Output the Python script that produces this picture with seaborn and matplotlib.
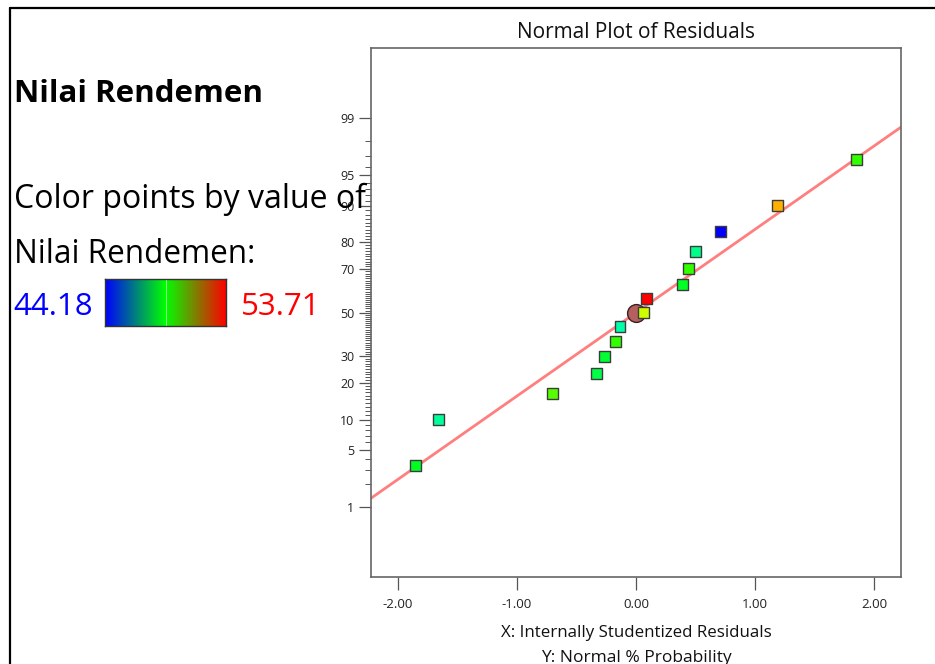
import numpy as np
import matplotlib
matplotlib.use("Agg")
import matplotlib.pyplot as plt
from matplotlib.colors import LinearSegmentedColormap
from matplotlib.lines import Line2D
from matplotlib.ticker import FixedLocator, FixedFormatter, NullFormatter
from statistics import NormalDist
import pandas as pd
import seaborn as sns

# ---- data -----------------------------------------------------------------
residuals = [-1.848, -1.659, -0.702, -0.333, -0.263, -0.174, -0.134, 0.061,
             0.092, 0.392, 0.439, 0.497, 0.705, 1.185, 1.851]
normal_prob = [3.33, 10.00, 16.67, 23.33, 30.00, 36.67, 43.33, 50.00,
               56.67, 63.33, 70.00, 76.67, 83.33, 90.00, 96.67]
rendemen = [48.63, 47.52, 49.74, 48.31, 48.47, 49.42, 47.36, 50.85,
            53.71, 48.63, 49.42, 47.67, 44.18, 52.04, 49.42]

ref_line_x = [-2.223, 2.223]
ref_line_prob = [1.311, 98.689]

center_x = [0.0]
center_prob = [50.0]

rend_min, rend_max = 44.18, 53.71

prob_major = [1, 5, 10, 20, 30, 50, 70, 80, 90, 95, 99]
x_major = [-2.0, -1.0, 0.0, 1.0, 2.0]
x_major_labels = ["-2.00", "-1.00", "0.00", "1.00", "2.00"]

# ---- style ----------------------------------------------------------------
sns.set_style("white")
plt.rcParams["font.family"] = ["Open Sans", "DejaVu Sans"]

W, H = 935, 664
fig = plt.figure(figsize=(W / 100, H / 100), dpi=100)
fig.patch.set_facecolor("white")


def fx(px):
    return px / W


def fy(py):
    return 1 - py / H


# points coloured along the hue spectrum, legend bar uses an RGB blend
point_cmap = LinearSegmentedColormap.from_list(
    "spectrum", ["#0000ff", "#00ffff", "#00ff00", "#ffff00", "#ff0000"])
bar_cmap = LinearSegmentedColormap.from_list(
    "bgr", ["#0000ff", "#00ff00", "#ff0000"])

# probability (normal quantile) scale for the y axis
_nd = NormalDist()
_inv = np.vectorize(_nd.inv_cdf, otypes=[float])
_cdf = np.vectorize(_nd.cdf, otypes=[float])


def to_z(p):
    p = np.clip(np.asarray(p, dtype=float) / 100.0, 1e-12, 1 - 1e-12)
    return _inv(p)


def to_p(z):
    return 100.0 * _cdf(np.asarray(z, dtype=float))


ax = fig.add_axes([fx(371), fy(577.3), fx(901) - fx(371), fy(48) - fy(577.3)])
ax.set_yscale("function", functions=(to_z, to_p))

df = pd.DataFrame({"res": residuals, "prob": normal_prob, "val": rendemen})
line_df = pd.DataFrame({"res": ref_line_x, "prob": ref_line_prob})

sns.lineplot(data=line_df, x="res", y="prob", ax=ax, color="#ff7f7f",
             linewidth=2.0, zorder=2)
ax.scatter(center_x, center_prob, s=165, color="#b5605f",
           edgecolor="#3a2020", linewidth=1.0, zorder=3)
sns.scatterplot(data=df, x="res", y="prob", hue="val", palette=point_cmap,
                hue_norm=(rend_min, rend_max), marker="s", s=62,
                edgecolor="#3c3c3c", linewidth=1.0, legend=False, ax=ax,
                zorder=4)

ax.set_xlim(-2.223, 2.223)
ax.set_ylim(0.0762, 99.924)

ax.xaxis.set_major_locator(FixedLocator(x_major))
ax.xaxis.set_major_formatter(FixedFormatter(x_major_labels))
ax.yaxis.set_major_locator(FixedLocator(prob_major))
ax.yaxis.set_major_formatter(FixedFormatter([str(v) for v in prob_major]))
ax.yaxis.set_minor_locator(FixedLocator(
    [v for v in range(2, 99) if v not in prob_major]))
ax.yaxis.set_minor_formatter(NullFormatter())

ax.tick_params(axis="both", which="major", direction="out", length=9,
               width=0.9, color="#555555", labelcolor="#222222",
               left=True, bottom=True)
ax.tick_params(axis="y", which="major", labelsize=9, pad=3)
ax.tick_params(axis="x", which="major", labelsize=9.5, pad=6)
ax.tick_params(axis="y", which="minor", direction="out", length=4.3,
               width=0.7, color="#555555", left=True)
for sp in ax.spines.values():
    sp.set_color("#666666")
    sp.set_linewidth(1.2)
ax.set_xlabel("")
ax.set_ylabel("")

fig.text(fx(636), fy(33), "Normal Plot of Residuals", ha="center",
         va="center", fontsize=15, color="#111111")
fig.text(fx(636), fy(633), "X: Internally Studentized Residuals",
         ha="center", va="center", fontsize=12.2, color="#111111")
fig.text(fx(636), fy(658), "Y: Normal % Probability",
         ha="center", va="center", fontsize=12.5, color="#111111")

# ---- left-hand panel ------------------------------------------------------
fig.text(fx(14), fy(102), "Nilai Rendemen", ha="left", va="baseline",
         fontsize=22.5, fontweight="bold", color="black", zorder=10)
fig.text(fx(14), fy(208), "Color points by value of", ha="left",
         va="baseline", fontsize=23, color="black", zorder=10)
fig.text(fx(14), fy(263), "Nilai Rendemen:", ha="left", va="baseline",
         fontsize=22.7, color="black", zorder=10)
fig.text(fx(13), fy(315), f"{rend_min:.2f}", ha="left", va="baseline",
         fontsize=22.5, color="#0000ff", zorder=10)
fig.text(fx(241), fy(315), f"{rend_max:.2f}", ha="left", va="baseline",
         fontsize=22.5, color="#ff0000", zorder=10)

cax = fig.add_axes([fx(105), fy(326), fx(226) - fx(105), fy(279.3) - fy(326)])
grad = np.linspace(rend_min, rend_max, 512).reshape(1, -1)
cax.imshow(grad, cmap=bar_cmap, aspect="auto",
           extent=[rend_min, rend_max, 0, 1], vmin=rend_min, vmax=rend_max)
cax.axvline((rend_min + rend_max) / 2, color="#8cff8c", linewidth=0.7)
cax.set_xticks([])
cax.set_yticks([])
for sp in cax.spines.values():
    sp.set_color("#333333")
    sp.set_linewidth(1.0)

# outer frame
fig.add_artist(Line2D([fx(10), fx(10)], [0, fy(8)], color="black",
                      linewidth=1.6))
fig.add_artist(Line2D([fx(10), 1], [fy(8), fy(8)], color="black",
                      linewidth=1.6))

fig.savefig("out.png", dpi=100, facecolor="white")
